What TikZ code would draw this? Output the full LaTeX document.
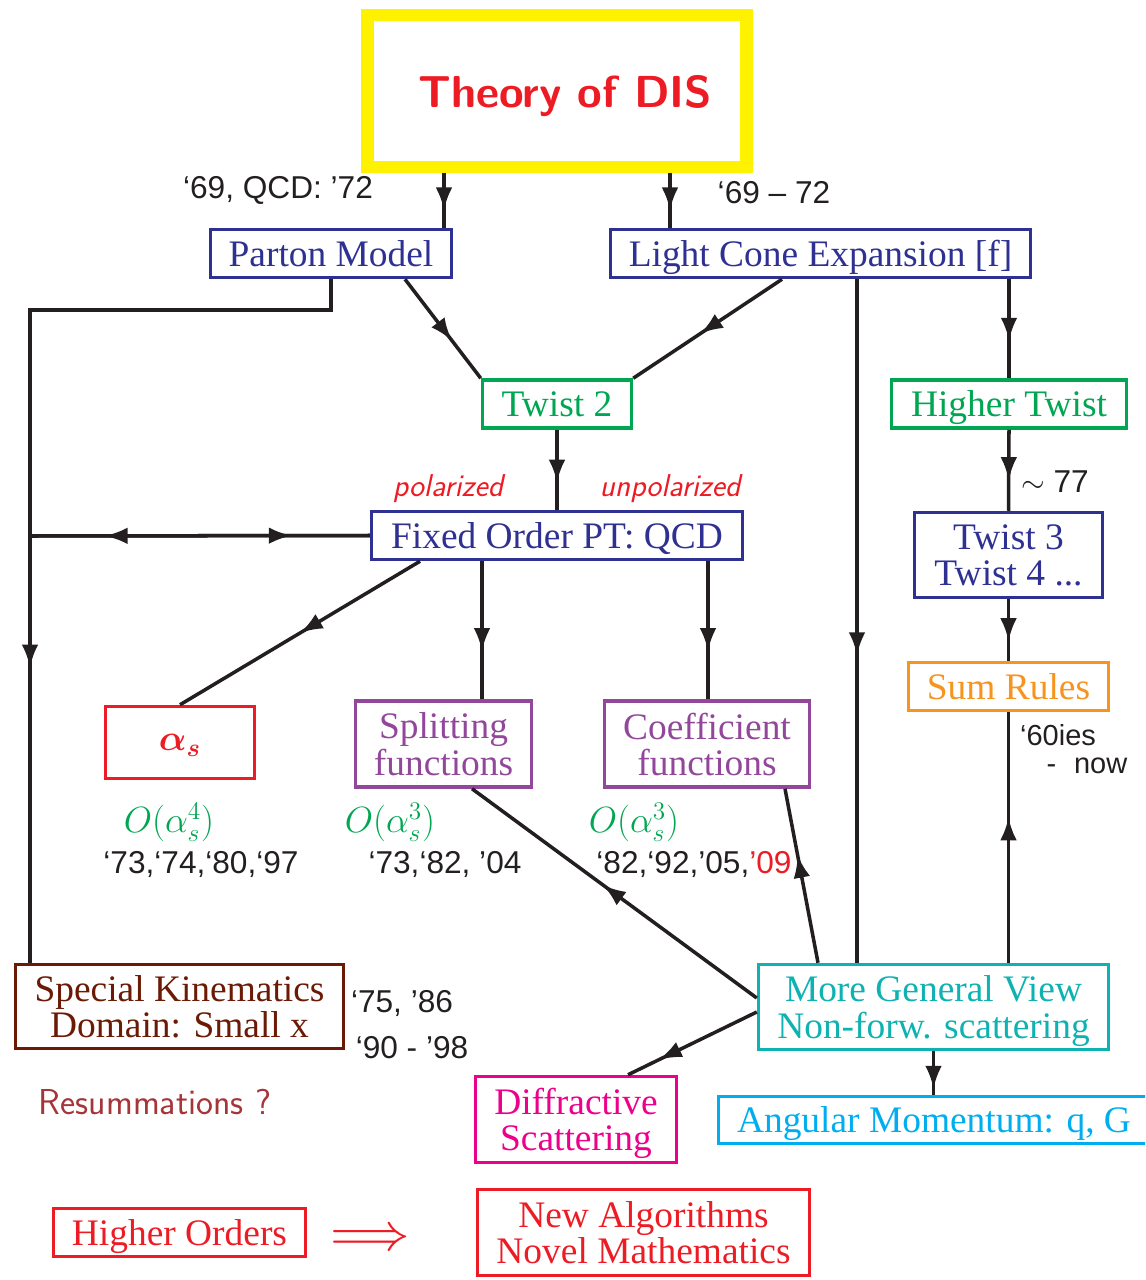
\documentclass[tikz,border=0pt]{standalone}
\usepackage{fontspec}
\usepackage{amsmath}
\usepackage{xcolor}
\usetikzlibrary{arrows.meta,decorations.markings}
\newfontfamily\boxfont{Liberation Serif}
\newfontfamily\yearfont{Liberation Sans}
\newfontfamily\symfont{latinmodern-math.otf}
\definecolor{ink}{HTML}{231F20}
\definecolor{navy}{HTML}{2E3192}
\definecolor{dgreen}{HTML}{00A651}
\definecolor{dred}{HTML}{ED1C24}
\definecolor{dyellow}{HTML}{FFF200}
\definecolor{dpurple}{HTML}{92479B}
\definecolor{dorange}{HTML}{F7941D}
\definecolor{dbrown}{HTML}{6B1A05}
\definecolor{dteal}{HTML}{0FB2B2}
\definecolor{dcyan}{HTML}{00AEEF}
\definecolor{dmagenta}{HTML}{EC008C}
\definecolor{dbrick}{HTML}{A6353A}

\begin{document}
\begin{tikzpicture}[x=0.02cm, y=-0.02cm,
    box/.style={draw, line width=2pt, inner sep=0pt, align=center, text depth=0pt,
                font=\boxfont\fontsize{21.3}{20.6}\selectfont},
    link/.style={line width=2pt, color=ink},
    tip/.style={postaction={decorate}, decoration={markings,
                mark=at position #1 with {\arrow{Latex[length=13pt,width=9.5pt]}}}},
    year/.style={font=\yearfont\fontsize{18}{18}\selectfont, text=ink, inner sep=0pt},
    pol/.style={font=\sffamily\itshape\fontsize{18}{18}\selectfont, text=dred, inner sep=0pt},
    order/.style={font=\fontsize{20.6}{20.6}\selectfont, text=dgreen, inner sep=0pt}]
    \useasboundingbox (0,0) rectangle (1145,1280);
    \clip (0,0) rectangle (1145,1280);

    % Top box
    \node[box, draw=dyellow, line width=7pt, minimum width=7.58cm, minimum height=3.04cm,
          font=\sffamily\bfseries\fontsize{25.5}{25.5}\selectfont, text=dred] (dis) at (557,91) {\hspace{0.32cm}Theory of DIS};

    % Boxes, row by row
    \node[box, draw=navy, text=navy, minimum width=4.82cm, minimum height=0.96cm] (parton) at (331,253.5) {Parton Model};
    \node[box, draw=navy, text=navy, minimum width=8.4cm, minimum height=0.96cm] (lce) at (820.5,253.5) {Light Cone Expansion [f]};
    \node[box, draw=dgreen, text=dgreen, minimum width=2.98cm, minimum height=0.96cm] (twisttwo) at (557,404) {Twist 2};
    \node[box, draw=dgreen, text=dgreen, minimum width=4.7cm, minimum height=0.96cm] (highertwist) at (1009,404) {Higher Twist};
    \node[box, draw=navy, text=navy, minimum width=7.42cm, minimum height=0.96cm] (fixedorder) at (557,535.5) {Fixed Order PT: QCD};
    \node[box, draw=navy, text=navy, minimum width=3.76cm, minimum height=1.7cm] (twistmore) at (1008.5,555) {Twist 3\\Twist 4 ...};
    \node[box, draw=dorange, text=dorange, minimum width=4cm, minimum height=0.96cm] (sumrules) at (1008.5,686.5) {Sum Rules};
    \node[box, draw=dred, text=dred, minimum width=2.98cm, minimum height=1.44cm] (alphas) at (180,742.5) {$\boldsymbol{\alpha_s}$};
    \node[box, draw=dpurple, text=dpurple, minimum width=3.52cm, minimum height=1.72cm] (splitting) at (443.5,744) {Splitting\\functions};
    \node[box, draw=dpurple, text=dpurple, minimum width=4.1cm, minimum height=1.72cm] (coefficient) at (707,744) {Coefficient\\functions};
    \node[box, draw=dbrown, text=dbrown, minimum width=6.56cm, minimum height=1.68cm] (special) at (179.5,1006.5) {Special Kinematics\\Domain: Small x};
    \node[box, draw=dteal, text=dteal, minimum width=7cm, minimum height=1.7cm] (general) at (933.5,1007) {More General View\\Non-forw. scattering};
    \node[box, draw=dmagenta, text=dmagenta, minimum width=4.02cm, minimum height=1.72cm] (diffractive) at (576,1119.5) {Diffractive\\Scattering};
    % runs off the right edge
    \node[box, draw=dcyan, text=dcyan, minimum width=9.5cm, minimum height=0.94cm] (angular) at (956,1120) {Angular Momentum: q, G\hspace{0.88cm}};
    \node[box, draw=dred, text=dred, minimum width=5.04cm, minimum height=0.96cm] (higherorders) at (179.5,1232.5) {Higher Orders};
    \node[box, draw=dred, text=dred, minimum width=6.64cm, minimum height=1.72cm] (newalgo) at (643.5,1232.5) {New Algorithms\\Novel Mathematics};
    \node[text=dred, inner sep=0pt, font=\symfont\fontsize{31}{31}\selectfont] (implies) at (370,1237) {⟹};

    % Years and labels
    \node[year] (qcdyear) at (278,190) {‘69, QCD: ’72};
    \node[year] (lceyear) at (774,193) {‘69 – 72};
    \node[pol] (polar) at (448,489) {polarized};
    \node[pol] (unpolar) at (670,489) {unpolarized};
    \node[year] (htyear) at (1055,482) {$\sim$ 77};
    \node[year, font=\yearfont\fontsize{16.5}{16.5}\selectfont] (sumyear) at (1058,735) {‘60ies};
    \node[year, font=\yearfont\fontsize{16.5}{16.5}\selectfont] (sumnow) at (1087,766) {-\,\, now};
    \node[order] (alphaorder) at (169,822) {$O(\alpha_s^4)$};
    \node[year] (alphayear) at (201,864) {‘73,‘74,‘80,‘97};
    \node[order] (splitorder) at (390,822) {$O(\alpha_s^3)$};
    \node[year] (splityear) at (445,864) {‘73,‘82, ’04};
    \node[order] (coefforder) at (634,822) {$O(\alpha_s^3)$};
    \node[year] (coeffyear) at (694,864) {‘82,‘92,’05,\textcolor{dred}{’09}};
    \node[year] (smallxyear) at (402,1003) {‘75, ’86};
    \node[year] (smallxlate) at (412,1048) {‘90 - ’98};
    \node[font=\sffamily\fontsize{20.5}{20.5}\selectfont, text=dbrick, inner sep=0pt] (resum) at (155,1102) {Resummations ?};

    % Rail on the left
    \coordinate (leftrail) at (30,536);

    % Connectors from the top
    \draw[link, tip=0.68] (dis.south -| 444,0) -- (parton.north -| 444,0);
    \draw[link, tip=0.68] (dis.south -| 670,0) -- (lce.north -| 670,0);
    \draw[link, tip=0.7] (parton.south) -- (parton.south |- 0,310) -- (30,310) -- (special.north -| leftrail);
    \draw[link, tip=0.62] (parton.south -| 405,0) -- (twisttwo.north west);
    \draw[link, tip=0.55] (lce.south -| 782,0) -- (twisttwo.north east);
    \draw[link, tip=0.55] (lce.south -| 857,0) -- (general.north -| 857,0);
    \draw[link, tip=0.62] (lce.south -| highertwist.north) -- (highertwist.north);
    \draw[link, tip=0.66] (twisttwo.south) -- (fixedorder.north);
    \draw[link, tip=0.62] (highertwist.south) -- (twistmore.north);
    \draw[link, tip=0.78] (fixedorder.west) -- (leftrail);
    \draw[link, tip=0.77] (leftrail) -- (fixedorder.west);
    \draw[link, tip=0.5] (fixedorder.south -| 420,0) -- (alphas.north);
    \draw[link, tip=0.65] (fixedorder.south -| 482,0) -- (splitting.north -| 482,0);
    \draw[link, tip=0.65] (fixedorder.south -| 708,0) -- (coefficient.north -| 708,0);
    \draw[link, tip=0.68] (twistmore.south) -- (sumrules.north);

    % Connectors from the general view
    \draw[link, tip=0.58] (general.north -| sumrules.south) -- (sumrules.south);
    \draw[link, tip=0.62] (general.north -| 818,0) -- (coefficient.south -| 785,0);
    \draw[link, tip=0.54] (general.west |- 0,998) -- (splitting.south -| 472,0);
    \draw[link, tip=0.76] (general.west |- 0,1012) -- (diffractive.north -| 628,0);
    \draw[link, tip=0.86] (general.south) -- (general.south |- angular.north);
\end{tikzpicture}
\end{document}
